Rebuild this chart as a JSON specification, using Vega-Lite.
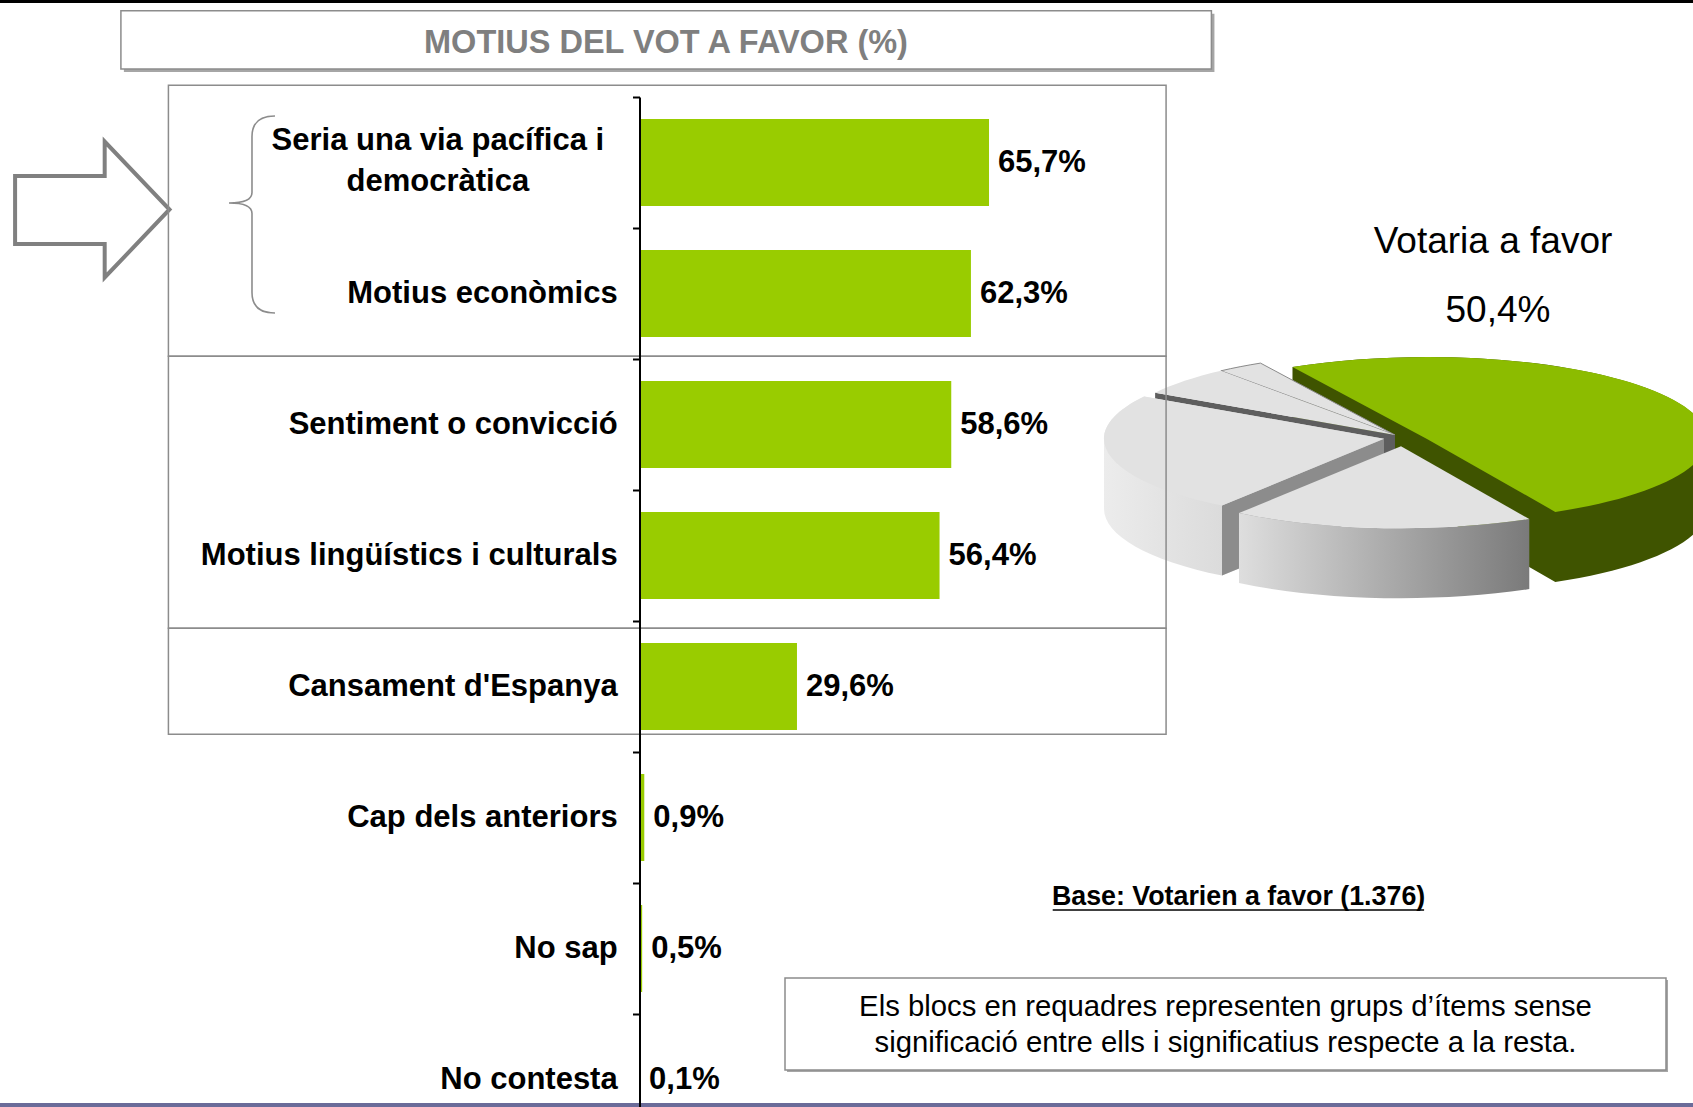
{
  "$schema": "https://vega.github.io/schema/vega-lite/v6.json",
  "width": 1693,
  "height": 1107,
  "autosize": {"type": "none"},
  "padding": 0,
  "background": "white",
  "config": {"view": {"stroke": null}},
  "datasets": {
    "bars": [
      {"cat": "Seria una via pacífica i democràtica", "value": 65.7, "label": "65,7%"},
      {"cat": "Motius econòmics", "value": 62.3, "label": "62,3%"},
      {"cat": "Sentiment o convicció", "value": 58.6, "label": "58,6%"},
      {"cat": "Motius lingüístics i culturals", "value": 56.4, "label": "56,4%"},
      {"cat": "Cansament d'Espanya", "value": 29.6, "label": "29,6%"},
      {"cat": "Cap dels anteriors", "value": 0.9, "label": "0,9%"},
      {"cat": "No sap", "value": 0.5, "label": "0,5%"},
      {"cat": "No contesta", "value": 0.1, "label": "0,1%"}
    ],
    "pie": [
      {"slice": "Votaria a favor", "value": 50.4, "label": "50,4%"},
      {"slice": "Votaria en contra", "value": 17.4, "label": "17,4%"},
      {"slice": "S'abstindria", "value": 23.8, "label": "23,8%"},
      {"slice": "No sap", "value": 5.7, "label": "5,7%"},
      {"slice": "No contesta", "value": 2.7, "label": "2,7%"}
    ],
    "one": [{}]
  },
  "resolve": {"scale": {"y": "independent"}},
  "layer": [
    {"data": {"name": "one"}, "mark": {"type": "rule", "color": "#000000", "strokeWidth": 3},
     "encoding": {"x": {"datum": -121, "type": "quantitative", "scale": {"domain": [-120.207, 198.026], "range": [0, 1693], "nice": false, "zero": false}, "axis": null}, "x2": {"datum": 199},
                  "y": {"datum": -0.729, "type": "quantitative", "scale": {"domain": [-0.740458, 7.709924], "range": [0, 1107], "nice": false, "zero": false}, "axis": null}}},
    {"data": {"name": "one"}, "mark": {"type": "rule", "color": "#6b6b99", "strokeWidth": 4},
     "encoding": {"x": {"datum": -121, "type": "quantitative", "scale": {"domain": [-120.207, 198.026], "range": [0, 1693], "nice": false, "zero": false}, "axis": null}, "x2": {"datum": 199},
                  "y": {"datum": 7.6947, "type": "quantitative", "scale": {"domain": [-0.740458, 7.709924], "range": [0, 1107], "nice": false, "zero": false}, "axis": null}}},
    {"data": {"name": "one"}, "mark": {"type": "rect", "fill": "#a6a6a6"},
     "encoding": {"x": {"datum": -96.92, "type": "quantitative", "scale": {"domain": [-120.207, 198.026], "range": [0, 1693], "nice": false, "zero": false}, "axis": null}, "x2": {"datum": 108.07},
                  "y": {"datum": -0.635, "type": "quantitative", "scale": {"domain": [-0.740458, 7.709924], "range": [0, 1107], "nice": false, "zero": false}, "axis": null}, "y2": {"datum": -0.19}}},
    {"data": {"name": "one"}, "mark": {"type": "rect", "fill": "#ffffff", "stroke": "#8c8c8c", "strokeWidth": 1.5},
     "encoding": {"x": {"datum": -97.48, "type": "quantitative", "scale": {"domain": [-120.207, 198.026], "range": [0, 1693], "nice": false, "zero": false}, "axis": null}, "x2": {"datum": 107.5},
                  "y": {"datum": -0.658, "type": "quantitative", "scale": {"domain": [-0.740458, 7.709924], "range": [0, 1107], "nice": false, "zero": false}, "axis": null}, "y2": {"datum": -0.213}}},
    {"data": {"name": "one"}, "mark": {"type": "text", "text": "MOTIUS DEL VOT A FAVOR (%)", "font": "Liberation Sans", "fontWeight": "bold", "fontSize": 32.5, "color": "#7f7f7f", "align": "center", "baseline": "middle"},
     "encoding": {"x": {"datum": 4.98, "type": "quantitative", "scale": {"domain": [-120.207, 198.026], "range": [0, 1693], "nice": false, "zero": false}, "axis": null},
                  "y": {"datum": -0.412, "type": "quantitative", "scale": {"domain": [-0.740458, 7.709924], "range": [0, 1107], "nice": false, "zero": false}, "axis": null}}},
    {"data": {"name": "one"}, "mark": {"type": "point", "shape": "M-77.2,-33.5L12.4,-33.5L12.4,-68L77.2,0L12.4,68L12.4,34.5L-77.2,34.5Z", "size": 4, "filled": true, "fill": "#ffffff", "stroke": "#808080", "strokeWidth": 4, "opacity": 1},
     "encoding": {"x": {"datum": -102.86, "type": "quantitative", "scale": {"domain": [-120.207, 198.026], "range": [0, 1693], "nice": false, "zero": false}, "axis": null},
                  "y": {"datum": 0.8588, "type": "quantitative", "scale": {"domain": [-0.740458, 7.709924], "range": [0, 1107], "nice": false, "zero": false}, "axis": null}}},
    {"data": {"name": "one"}, "mark": {"type": "point", "shape": "M23,-98.5Q0,-98.5,0,-78L0,-22Q0,-11.5,-23,-11.5Q0,-11.5,0,-1L0,78Q0,98.5,23,98.5", "size": 4, "filled": false, "stroke": "#8c8c8c", "strokeWidth": 1.6, "opacity": 1},
     "encoding": {"x": {"datum": -72.84, "type": "quantitative", "scale": {"domain": [-120.207, 198.026], "range": [0, 1693], "nice": false, "zero": false}, "axis": null},
                  "y": {"datum": 0.897, "type": "quantitative", "scale": {"domain": [-0.740458, 7.709924], "range": [0, 1107], "nice": false, "zero": false}, "axis": null}}},

    {"data": {"name": "pie"}, "transform": [{"filter": {"field": "slice", "equal": "Votaria a favor"}}],
     "mark": {"type": "point", "shape": "M-102.5,-70.9A280,82,0,0,1,312,1L312,71A280,82,0,0,1,160.3,143.9L32,71L-102.5,-0.9Z", "size": 4, "filled": true, "fill": "#3f5400", "strokeWidth": 0, "opacity": 1},
     "encoding": {"x": {"datum": 142.01, "type": "quantitative", "scale": {"domain": [-120.207, 198.026], "range": [0, 1693], "nice": false, "zero": false}, "axis": null},
                  "y": {"datum": 2.6031, "type": "quantitative", "scale": {"domain": [-0.740458, 7.709924], "range": [0, 1107], "nice": false, "zero": false}, "axis": null}}},
    {"data": {"name": "pie"}, "transform": [{"filter": {"field": "slice", "equal": "Votaria a favor"}}],
     "mark": {"type": "point", "shape": "M32,1L-102.5,-70.9A280,82,0,1,1,160.3,73.9Z", "size": 4, "filled": true, "fill": "#8cbc00", "strokeWidth": 0, "opacity": 1},
     "encoding": {"x": {"datum": 142.01, "type": "quantitative", "scale": {"domain": [-120.207, 198.026], "range": [0, 1693], "nice": false, "zero": false}, "axis": null},
                  "y": {"datum": 2.6031, "type": "quantitative", "scale": {"domain": [-0.740458, 7.709924], "range": [0, 1107], "nice": false, "zero": false}, "axis": null}}},
    {"data": {"name": "pie"}, "transform": [{"filter": {"field": "slice", "equal": "No contesta"}}],
     "mark": {"type": "point", "shape": "M0,-3L-174.1,-67.2A280,82,0,0,1,-134.5,-74.9Z", "size": 4, "filled": true, "fill": "#e2e2e2", "stroke": "#8a8a8a", "strokeWidth": 1, "opacity": 1},
     "encoding": {"x": {"datum": 142.01, "type": "quantitative", "scale": {"domain": [-120.207, 198.026], "range": [0, 1693], "nice": false, "zero": false}, "axis": null},
                  "y": {"datum": 2.6031, "type": "quantitative", "scale": {"domain": [-0.740458, 7.709924], "range": [0, 1107], "nice": false, "zero": false}, "axis": null}}},
    {"data": {"name": "pie"}, "transform": [{"filter": {"field": "slice", "equal": "No sap"}}],
     "mark": {"type": "point", "shape": "M0,-3L-239.9,-45.3L-239.9,24.7L0,67Z", "size": 4, "filled": true, "fill": "#5e5e5e", "strokeWidth": 0, "opacity": 1},
     "encoding": {"x": {"datum": 142.01, "type": "quantitative", "scale": {"domain": [-120.207, 198.026], "range": [0, 1693], "nice": false, "zero": false}, "axis": null},
                  "y": {"datum": 2.6031, "type": "quantitative", "scale": {"domain": [-0.740458, 7.709924], "range": [0, 1107], "nice": false, "zero": false}, "axis": null}}},
    {"data": {"name": "pie"}, "transform": [{"filter": {"field": "slice", "equal": "No sap"}}],
     "mark": {"type": "point", "shape": "M0,-3L-239.9,-45.3A280,82,0,0,1,-174.1,-67.2Z", "size": 4, "filled": true, "fill": "#e2e2e2", "strokeWidth": 0, "opacity": 1},
     "encoding": {"x": {"datum": 142.01, "type": "quantitative", "scale": {"domain": [-120.207, 198.026], "range": [0, 1693], "nice": false, "zero": false}, "axis": null},
                  "y": {"datum": 2.6031, "type": "quantitative", "scale": {"domain": [-0.740458, 7.709924], "range": [0, 1107], "nice": false, "zero": false}, "axis": null}}},
    {"data": {"name": "pie"}, "transform": [{"filter": {"field": "slice", "equal": "S'abstindria"}}],
     "mark": {"type": "point", "shape": "M-11,0.7L-11,70.7L-173,137.6A280,82,0,0,1,-291,70.7L-291,0.7A280,82,0,0,1,-250.9,-41.6Z", "size": 4, "filled": true,
              "fill": {"gradient": "linear", "x1": 0, "y1": 0, "x2": 1, "y2": 0, "stops": [{"offset": 0, "color": "#ececec"}, {"offset": 1, "color": "#c4c4c4"}]}, "strokeWidth": 0, "opacity": 1},
     "encoding": {"x": {"datum": 142.01, "type": "quantitative", "scale": {"domain": [-120.207, 198.026], "range": [0, 1693], "nice": false, "zero": false}, "axis": null},
                  "y": {"datum": 2.6031, "type": "quantitative", "scale": {"domain": [-0.740458, 7.709924], "range": [0, 1107], "nice": false, "zero": false}, "axis": null}}},
    {"data": {"name": "pie"}, "transform": [{"filter": {"field": "slice", "equal": "S'abstindria"}}],
     "mark": {"type": "point", "shape": "M-11,0.7L-173,67.6L-173,137.6L-11,70.7Z", "size": 4, "filled": true, "fill": "#8c8c8c", "strokeWidth": 0, "opacity": 1},
     "encoding": {"x": {"datum": 142.01, "type": "quantitative", "scale": {"domain": [-120.207, 198.026], "range": [0, 1693], "nice": false, "zero": false}, "axis": null},
                  "y": {"datum": 2.6031, "type": "quantitative", "scale": {"domain": [-0.740458, 7.709924], "range": [0, 1107], "nice": false, "zero": false}, "axis": null}}},
    {"data": {"name": "pie"}, "transform": [{"filter": {"field": "slice", "equal": "S'abstindria"}}],
     "mark": {"type": "point", "shape": "M-11,0.7L-173,67.6A280,82,0,0,1,-250.9,-41.6Z", "size": 4, "filled": true, "fill": "#e2e2e2", "strokeWidth": 0, "opacity": 1},
     "encoding": {"x": {"datum": 142.01, "type": "quantitative", "scale": {"domain": [-120.207, 198.026], "range": [0, 1693], "nice": false, "zero": false}, "axis": null},
                  "y": {"datum": 2.6031, "type": "quantitative", "scale": {"domain": [-0.740458, 7.709924], "range": [0, 1107], "nice": false, "zero": false}, "axis": null}}},
    {"data": {"name": "pie"}, "transform": [{"filter": {"field": "slice", "equal": "Votaria en contra"}}],
     "mark": {"type": "point", "shape": "M134.3,81.1A280,82,0,0,1,-156,75.1L-156,145.1A280,82,0,0,0,134.3,151.1Z", "size": 4, "filled": true,
              "fill": {"gradient": "linear", "x1": 0, "y1": 0, "x2": 1, "y2": 0, "stops": [{"offset": 0, "color": "#dedede"}, {"offset": 1, "color": "#7a7a7a"}]}, "strokeWidth": 0, "opacity": 1},
     "encoding": {"x": {"datum": 142.01, "type": "quantitative", "scale": {"domain": [-120.207, 198.026], "range": [0, 1693], "nice": false, "zero": false}, "axis": null},
                  "y": {"datum": 2.6031, "type": "quantitative", "scale": {"domain": [-0.740458, 7.709924], "range": [0, 1107], "nice": false, "zero": false}, "axis": null}}},
    {"data": {"name": "pie"}, "transform": [{"filter": {"field": "slice", "equal": "Votaria en contra"}}],
     "mark": {"type": "point", "shape": "M6,8.2L134.3,81.1A280,82,0,0,1,-156,75.1Z", "size": 4, "filled": true, "fill": "#e2e2e2", "strokeWidth": 0, "opacity": 1},
     "encoding": {"x": {"datum": 142.01, "type": "quantitative", "scale": {"domain": [-120.207, 198.026], "range": [0, 1693], "nice": false, "zero": false}, "axis": null},
                  "y": {"datum": 2.6031, "type": "quantitative", "scale": {"domain": [-0.740458, 7.709924], "range": [0, 1107], "nice": false, "zero": false}, "axis": null}}},

    {"data": {"name": "one"}, "mark": {"type": "rect", "filled": false, "stroke": "#8c8c8c", "strokeWidth": 1.5},
     "encoding": {"x": {"datum": -88.55, "type": "quantitative", "scale": {"domain": [-120.207, 198.026], "range": [0, 1693], "nice": false, "zero": false}, "axis": null}, "x2": {"datum": 98.98},
                  "y": {"datum": -0.089, "type": "quantitative", "scale": {"domain": [-0.740458, 7.709924], "range": [0, 1107], "nice": false, "zero": false}, "axis": null}, "y2": {"datum": 1.979}}},
    {"data": {"name": "one"}, "mark": {"type": "rect", "filled": false, "stroke": "#8c8c8c", "strokeWidth": 1.5},
     "encoding": {"x": {"datum": -88.55, "type": "quantitative", "scale": {"domain": [-120.207, 198.026], "range": [0, 1693], "nice": false, "zero": false}, "axis": null}, "x2": {"datum": 98.98},
                  "y": {"datum": 1.979, "type": "quantitative", "scale": {"domain": [-0.740458, 7.709924], "range": [0, 1107], "nice": false, "zero": false}, "axis": null}, "y2": {"datum": 4.056}}},
    {"data": {"name": "one"}, "mark": {"type": "rect", "filled": false, "stroke": "#8c8c8c", "strokeWidth": 1.5},
     "encoding": {"x": {"datum": -88.55, "type": "quantitative", "scale": {"domain": [-120.207, 198.026], "range": [0, 1693], "nice": false, "zero": false}, "axis": null}, "x2": {"datum": 98.98},
                  "y": {"datum": 4.056, "type": "quantitative", "scale": {"domain": [-0.740458, 7.709924], "range": [0, 1107], "nice": false, "zero": false}, "axis": null}, "y2": {"datum": 4.864}}},

    {"data": {"name": "bars"}, "mark": {"type": "bar", "color": "#99cc00", "height": {"band": 0.664}},
     "encoding": {
       "y": {"field": "cat", "type": "nominal", "sort": null,
             "scale": {"domain": ["Seria una via pacífica i democràtica", "Motius econòmics", "Sentiment o convicció", "Motius lingüístics i culturals", "Cansament d'Espanya", "Cap dels anteriors", "No sap", "No contesta"], "range": [97, 1145], "paddingInner": 0, "paddingOuter": 0},
             "axis": {"orient": "left", "offset": -639.5, "domain": true, "domainColor": "#000000", "domainWidth": 2, "ticks": true, "tickColor": "#000000", "tickWidth": 2, "tickSize": 7, "bandPosition": 0, "labels": false, "title": null, "grid": false, "zindex": 1}},
       "x": {"field": "value", "type": "quantitative", "scale": {"domain": [-120.207, 198.026], "range": [0, 1693], "nice": false, "zero": false}, "axis": null}}},
    {"data": {"name": "bars"}, "mark": {"type": "text", "align": "left", "baseline": "middle", "dx": 9, "font": "Liberation Sans", "fontWeight": "bold", "fontSize": 31, "color": "#000000"},
     "encoding": {
       "y": {"field": "cat", "type": "nominal", "sort": null,
             "scale": {"domain": ["Seria una via pacífica i democràtica", "Motius econòmics", "Sentiment o convicció", "Motius lingüístics i culturals", "Cansament d'Espanya", "Cap dels anteriors", "No sap", "No contesta"], "range": [97, 1145], "paddingInner": 0, "paddingOuter": 0}, "axis": null},
       "x": {"field": "value", "type": "quantitative", "scale": {"domain": [-120.207, 198.026], "range": [0, 1693], "nice": false, "zero": false}, "axis": null},
       "text": {"field": "label"}}},
    {"data": {"name": "bars"}, "transform": [{"filter": {"not": {"field": "cat", "equal": "Seria una via pacífica i democràtica"}}}],
     "mark": {"type": "text", "align": "right", "baseline": "middle", "font": "Liberation Sans", "fontWeight": "bold", "fontSize": 31, "color": "#000000"},
     "encoding": {
       "y": {"field": "cat", "type": "nominal", "sort": null,
             "scale": {"domain": ["Seria una via pacífica i democràtica", "Motius econòmics", "Sentiment o convicció", "Motius lingüístics i culturals", "Cansament d'Espanya", "Cap dels anteriors", "No sap", "No contesta"], "range": [97, 1145], "paddingInner": 0, "paddingOuter": 0}, "axis": null},
       "x": {"datum": -4.1, "type": "quantitative", "scale": {"domain": [-120.207, 198.026], "range": [0, 1693], "nice": false, "zero": false}, "axis": null},
       "text": {"field": "cat"}}},
    {"data": {"name": "bars"}, "transform": [{"filter": {"field": "cat", "equal": "Seria una via pacífica i democràtica"}}],
     "mark": {"type": "text", "align": "center", "baseline": "middle", "dy": -21.5, "lineHeight": 41, "text": ["Seria una via pacífica i", "democràtica"], "font": "Liberation Sans", "fontWeight": "bold", "fontSize": 31, "color": "#000000"},
     "encoding": {
       "y": {"field": "cat", "type": "nominal", "sort": null,
             "scale": {"domain": ["Seria una via pacífica i democràtica", "Motius econòmics", "Sentiment o convicció", "Motius lingüístics i culturals", "Cansament d'Espanya", "Cap dels anteriors", "No sap", "No contesta"], "range": [97, 1145], "paddingInner": 0, "paddingOuter": 0}, "axis": null},
       "x": {"datum": -37.9, "type": "quantitative", "scale": {"domain": [-120.207, 198.026], "range": [0, 1693], "nice": false, "zero": false}, "axis": null}}},

    {"data": {"name": "one"}, "mark": {"type": "text", "text": "Base: Votarien a favor (1.376)", "font": "Liberation Sans", "fontWeight": "bold", "fontSize": 26.8, "color": "#000000", "align": "center", "baseline": "middle"},
     "encoding": {"x": {"datum": 112.6, "type": "quantitative", "scale": {"domain": [-120.207, 198.026], "range": [0, 1693], "nice": false, "zero": false}, "axis": null},
                  "y": {"datum": 6.107, "type": "quantitative", "scale": {"domain": [-0.740458, 7.709924], "range": [0, 1107], "nice": false, "zero": false}, "axis": null}}},
    {"data": {"name": "one"}, "mark": {"type": "rule", "color": "#000000", "strokeWidth": 1.6},
     "encoding": {"x": {"datum": 77.67, "type": "quantitative", "scale": {"domain": [-120.207, 198.026], "range": [0, 1693], "nice": false, "zero": false}, "axis": null}, "x2": {"datum": 147.48},
                  "y": {"datum": 6.206, "type": "quantitative", "scale": {"domain": [-0.740458, 7.709924], "range": [0, 1107], "nice": false, "zero": false}, "axis": null}}},
    {"data": {"name": "one"}, "mark": {"type": "rect", "fill": "#a6a6a6"},
     "encoding": {"x": {"datum": 27.73, "type": "quantitative", "scale": {"domain": [-120.207, 198.026], "range": [0, 1693], "nice": false, "zero": false}, "axis": null}, "x2": {"datum": 193.33},
                  "y": {"datum": 6.74, "type": "quantitative", "scale": {"domain": [-0.740458, 7.709924], "range": [0, 1107], "nice": false, "zero": false}, "axis": null}, "y2": {"datum": 7.442}}},
    {"data": {"name": "one"}, "mark": {"type": "rect", "fill": "#ffffff", "stroke": "#8c8c8c", "strokeWidth": 1.5},
     "encoding": {"x": {"datum": 27.35, "type": "quantitative", "scale": {"domain": [-120.207, 198.026], "range": [0, 1693], "nice": false, "zero": false}, "axis": null}, "x2": {"datum": 192.95},
                  "y": {"datum": 6.725, "type": "quantitative", "scale": {"domain": [-0.740458, 7.709924], "range": [0, 1107], "nice": false, "zero": false}, "axis": null}, "y2": {"datum": 7.427}}},
    {"data": {"name": "one"}, "mark": {"type": "text", "text": ["Els blocs en requadres representen grups d’ítems sense", "significació entre ells i significatius respecte a la resta."], "lineHeight": 36, "font": "Liberation Sans", "fontSize": 29.3, "color": "#000000", "align": "center", "baseline": "middle"},
     "encoding": {"x": {"datum": 110.15, "type": "quantitative", "scale": {"domain": [-120.207, 198.026], "range": [0, 1693], "nice": false, "zero": false}, "axis": null},
                  "y": {"datum": 6.947, "type": "quantitative", "scale": {"domain": [-0.740458, 7.709924], "range": [0, 1107], "nice": false, "zero": false}, "axis": null}}},

    {"data": {"name": "pie"}, "transform": [{"filter": {"field": "slice", "equal": "Votaria a favor"}}],
     "mark": {"type": "text", "font": "Liberation Sans", "fontSize": 37, "color": "#000000", "align": "center", "baseline": "middle"},
     "encoding": {"x": {"datum": 160.43, "type": "quantitative", "scale": {"domain": [-120.207, 198.026], "range": [0, 1693], "nice": false, "zero": false}, "axis": null},
                  "y": {"datum": 1.108, "type": "quantitative", "scale": {"domain": [-0.740458, 7.709924], "range": [0, 1107], "nice": false, "zero": false}, "axis": null},
                  "text": {"field": "slice"}}},
    {"data": {"name": "pie"}, "transform": [{"filter": {"field": "slice", "equal": "Votaria a favor"}}],
     "mark": {"type": "text", "font": "Liberation Sans", "fontSize": 37, "color": "#000000", "align": "center", "baseline": "middle"},
     "encoding": {"x": {"datum": 161.37, "type": "quantitative", "scale": {"domain": [-120.207, 198.026], "range": [0, 1693], "nice": false, "zero": false}, "axis": null},
                  "y": {"datum": 1.634, "type": "quantitative", "scale": {"domain": [-0.740458, 7.709924], "range": [0, 1107], "nice": false, "zero": false}, "axis": null},
                  "text": {"field": "label"}}}
  ]
}
